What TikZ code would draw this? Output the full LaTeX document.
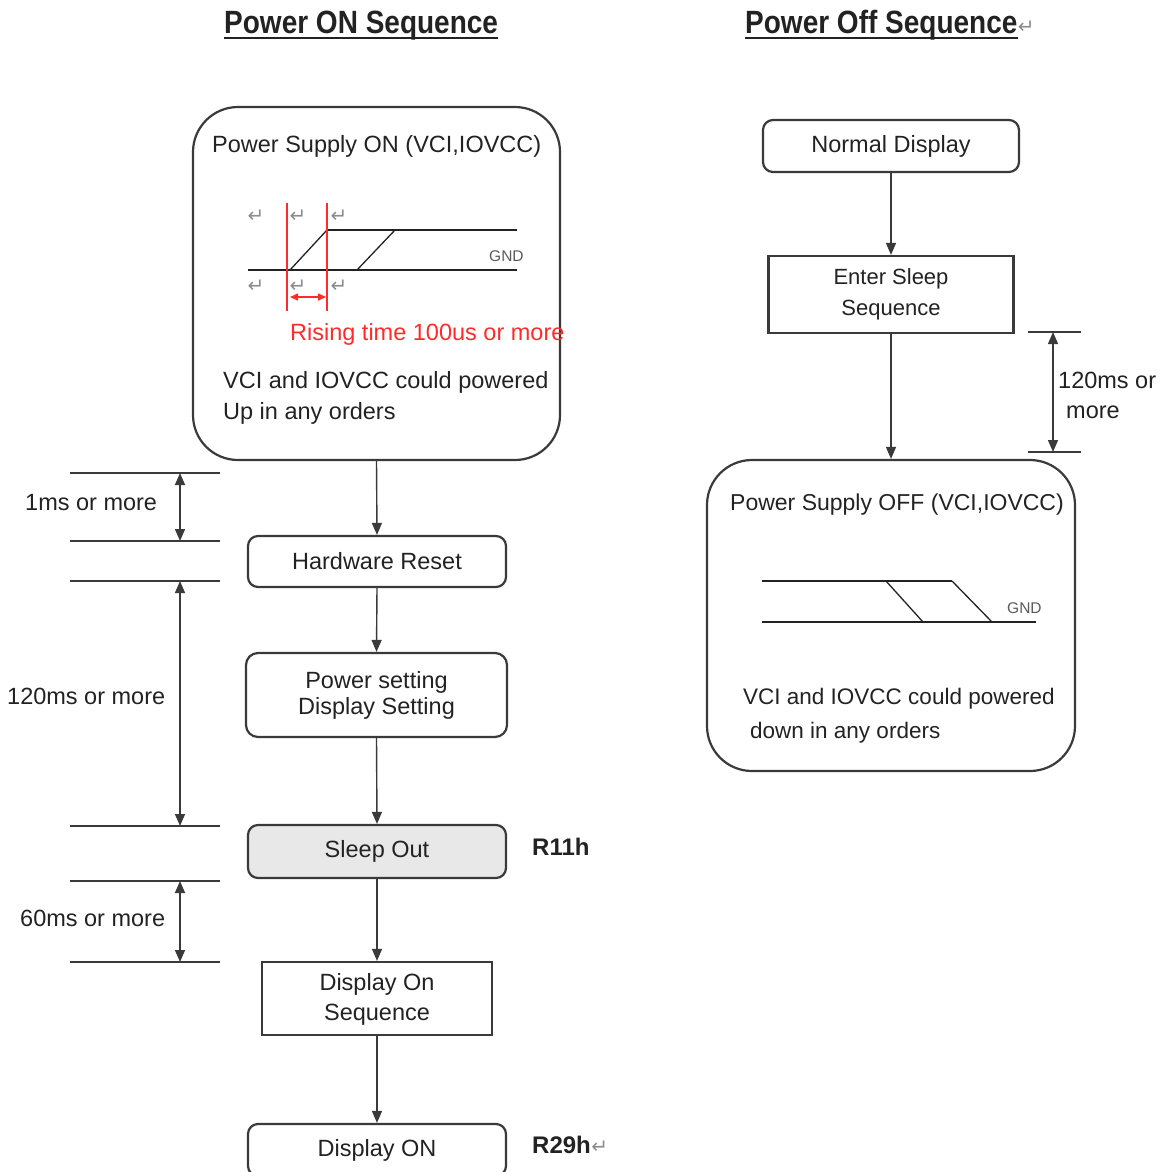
\documentclass[tikz,border=0pt]{standalone}
\usepackage{fontspec}
\setmainfont{Liberation Sans}
\newfontfamily\symfont{DejaVu Sans}
\usetikzlibrary{arrows.meta}
\definecolor{ink}{HTML}{222222}
\definecolor{boxline}{HTML}{3A3A3A}
\definecolor{redline}{HTML}{FF2A2A}
\definecolor{sleepfill}{HTML}{E8E8E8}
\begin{document}
\begin{tikzpicture}[x=1pt,y=-1pt,
  txt/.style={font=\fontsize{23.5}{30}\selectfont, text=ink, inner sep=0pt},
  offtxt/.style={font=\fontsize{22.5}{30}\selectfont, text=ink, inner sep=0pt},
  smalltxt/.style={font=\fontsize{15.5}{18}\selectfont, text=black!65, inner sep=0pt},
  retmark/.style={font=\symfont\fontsize{20}{22}\selectfont, text=black!45, inner sep=0pt},
  titletxt/.style={font=\fontsize{28}{32}\selectfont\bfseries, text=ink, inner sep=0pt},
  regtxt/.style={font=\fontsize{24}{26}\selectfont\bfseries, text=ink, inner sep=0pt},
  box/.style={draw=boxline, line width=2.2pt, rounded corners=10pt, inner sep=0pt,
    font=\fontsize{23.5}{30}\selectfont, text=ink, align=center},
  sqbox/.style={draw=boxline, line width=2.2pt, inner sep=0pt,
    font=\fontsize{23.5}{30}\selectfont, text=ink, align=center},
  bigbox/.style={draw=boxline, line width=2.2pt, rounded corners=45pt, inner sep=0pt},
  arr/.style={-{Triangle[length=12pt,width=10pt]}, line width=1.4pt, draw=boxline},
  dim/.style={{Triangle[length=12pt,width=10pt]}-{Triangle[length=12pt,width=10pt]}, line width=1.4pt, draw=boxline},
  hl/.style={line width=2pt, draw=boxline},
  wave/.style={line width=1.6pt, draw=ink},
  redv/.style={line width=2pt, draw=redline},
]
\path[use as bounding box] (0,0) rectangle (1176,1171);
\clip (0,0) rectangle (1176,1171);

% ---------- Titles ----------
\node[titletxt, anchor=base west] (t1) at (224,33) {\scalebox{1}[1.15]{Power ON Sequence}};
\draw[line width=1.8pt, draw=ink] ([yshift=-5pt]t1.base west) -- ([yshift=-5pt]t1.base east);
\node[titletxt, anchor=base west] (t2) at (745,33) {\scalebox{1}[1.15]{Power Off Sequence}};
\draw[line width=1.8pt, draw=ink] ([yshift=-5pt]t2.base west) -- ([yshift=-5pt]t2.base east);
\node[retmark, anchor=base west] (t2m) at (t2.base east) {↵};

% ---------- Left column ----------
\node[bigbox, minimum width=367pt, minimum height=353pt] (on) at (376.5,283.5) {};
\node[txt, anchor=mid west] (onT) at (212,150) {Power Supply ON (VCI,IOVCC)};

% waveform
\coordinate (wl1) at (248,270); \coordinate (wr1) at (517,270);
\coordinate (wl2) at (327,230); \coordinate (wr2) at (517,230);
\draw[wave] (wl1) -- (wr1);
\draw[wave] (wl2) -- (wr2);
\coordinate (e1a) at (290,270); \coordinate (e1b) at (327,230);
\coordinate (e2a) at (357,270); \coordinate (e2b) at (395,230);
\draw[wave, line width=1.3pt] (e1a) -- (e1b);
\draw[wave, line width=1.3pt] (e2a) -- (e2b);
\coordinate (r1t) at (287,203); \coordinate (r1b) at (287,311);
\coordinate (r2t) at (327,203); \coordinate (r2b) at (327,311);
\draw[redv] (r1t) -- (r1b);
\draw[redv] (r2t) -- (r2b);
\coordinate (ra) at (290,297); \coordinate (rb) at (326,297);
\draw[redline, line width=1.6pt, {Triangle[length=8pt,width=7pt]}-{Triangle[length=8pt,width=7pt]}] (ra) -- (rb);
\node[smalltxt, anchor=mid west] (gnd1) at (489,259) {GND};
\node[retmark] (m1) at (256,216) {↵};
\node[retmark] (m2) at (298,216) {↵};
\node[retmark] (m3) at (339,216) {↵};
\node[retmark] (m4) at (256,286) {↵};
\node[retmark] (m5) at (298,286) {↵};
\node[retmark] (m6) at (339,286) {↵};
\node[txt, text=redline, anchor=mid west] (rise) at (290,338) {Rising time 100us or more};
\node[txt, anchor=mid west] (onL1) at (223,386) {VCI and IOVCC could powered};
\node[txt, anchor=mid west] (onL2) at (223,417) {Up in any orders};

\node[box, minimum width=258pt, minimum height=51pt] (hw) at (377,561.5) {Hardware Reset};
\node[box, minimum width=261pt, minimum height=84pt, rounded corners=12pt,
      font=\fontsize{23.5}{26}\selectfont] (ps) at (376.5,695) {Power setting\\Display Setting};
\node[box, fill=sleepfill, minimum width=258pt, minimum height=53pt] (so) at (377,851.5) {Sleep Out};
\node[sqbox, minimum width=230pt, minimum height=73pt] (dos) at (377,998.5) {};
\node[txt, anchor=mid] (dosT1) at (377,988) {Display On};
\node[txt, anchor=mid] (dosT2) at (377,1018) {Sequence};
\node[box, minimum width=258pt, minimum height=52pt] (don) at (377,1150) {Display ON};

\node[regtxt, anchor=mid west] (r11) at (532,853) {R11h};
\node[regtxt, anchor=mid west] (r29) at (532,1151) {R29h};
\node[retmark, anchor=base west] (r29m) at (r29.base east) {↵};

\draw[arr] (on.south) -- (hw.north);
\draw[arr] (hw.south) -- (ps.north);
\draw[arr] (ps.south) -- (so.north);
\draw[arr] (so.south) -- (dos.north);
\draw[arr] (dos.south) -- (don.north);

% timing marks left
\foreach \y/\n in {473/a, 541/b, 581/c, 826/d, 881/e, 962/f} {
  \coordinate (hL\n) at (70,\y);
  \coordinate (hR\n) at (220,\y);
  \coordinate (hA\n) at (180,\y);
  \draw[hl] (hL\n) -- (hR\n);
}
\draw[dim] (hAa) -- (hAb);
\draw[dim] (hAc) -- (hAd);
\draw[dim] (hAe) -- (hAf);
\node[txt, anchor=mid west] (d1) at (25,508) {1ms or more};
\node[txt, anchor=mid west] (d2) at (7,702) {120ms or more};
\node[txt, anchor=mid west] (d3) at (20,924) {60ms or more};

% ---------- Right column ----------
\node[box, minimum width=256pt, minimum height=52pt] (nd) at (891,146) {Normal Display};
\node[sqbox, minimum width=245pt, minimum height=77pt, font=\fontsize{22}{31}\selectfont] (es) at (891,294.5) {Enter Sleep\\Sequence};
\node[bigbox, minimum width=368pt, minimum height=311pt] (off) at (891,615.5) {};
\draw[arr] (nd.south) -- (es.north);
\draw[arr] (es.south) -- (off.north);

\coordinate (qL1) at (1028,332); \coordinate (qR1) at (1081,332);
\coordinate (qL2) at (1028,452); \coordinate (qR2) at (1081,452);
\coordinate (qA1) at (1053,332); \coordinate (qA2) at (1053,452);
\draw[hl] (qL1) -- (qR1);
\draw[hl] (qL2) -- (qR2);
\draw[dim] (qA1) -- (qA2);
\node[txt, anchor=mid west] (q1) at (1058,386) {120ms or};
\node[txt, anchor=mid west] (q2) at (1066,416) {more};

\node[offtxt, anchor=mid west, font=\fontsize{23}{30}\selectfont] (offT) at (730,508) {Power Supply OFF (VCI,IOVCC)};
\coordinate (ol1) at (762,581); \coordinate (or1) at (952,581);
\coordinate (ol2) at (762,622); \coordinate (or2) at (1036,622);
\draw[wave] (ol1) -- (or1);
\draw[wave] (ol2) -- (or2);
\coordinate (f1a) at (886,581); \coordinate (f1b) at (923,622);
\coordinate (f2a) at (952,581); \coordinate (f2b) at (992,622);
\draw[wave, line width=1.3pt] (f1a) -- (f1b);
\draw[wave, line width=1.3pt] (f2a) -- (f2b);
\node[smalltxt, anchor=mid west] (gnd2) at (1007,611) {GND};
\node[offtxt, anchor=mid west] (offL1) at (743,702) {VCI and IOVCC could powered};
\node[offtxt, anchor=mid west] (offL2) at (750,736) {down in any orders};
\end{tikzpicture}
\end{document}
